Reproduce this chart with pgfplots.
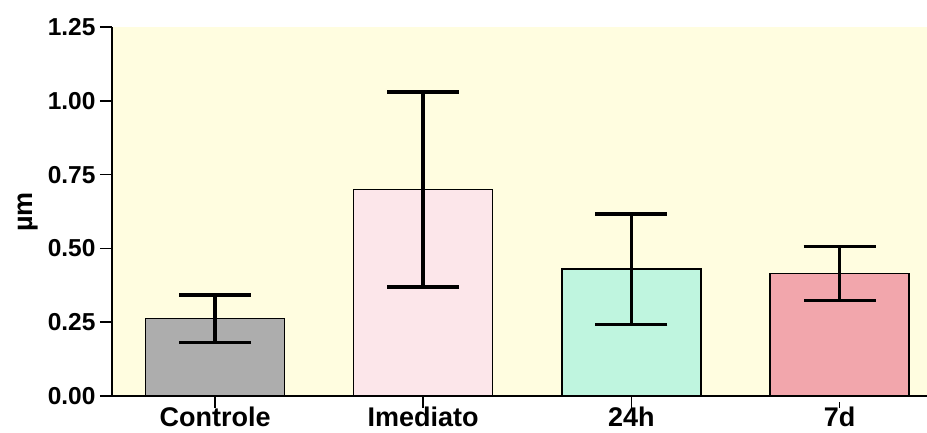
\documentclass[border=0pt]{standalone}
\usepackage{pgfplots}
\pgfplotsset{compat=1.18}
\usepackage{fontspec}
\setmainfont{Liberation Sans}
\definecolor{bgy}{HTML}{FFFDE0}
\definecolor{cctl}{HTML}{ADADAD}
\definecolor{cime}{HTML}{FCE6EA}
\definecolor{c24}{HTML}{BFF5DF}
\definecolor{c7d}{HTML}{F2A6AC}
\begin{document}
\begin{tikzpicture}
\path[use as bounding box] (-112bp,-37bp) rectangle (815bp,396bp);
\begin{axis}[
  at={(0,0)}, anchor=south west,
  scale only axis, width=815bp, height=369bp,
  xmin=-0.495, xmax=3.42, ymin=0, ymax=1.25,
  axis lines*=left,
  axis line style={line width=1.5bp, -},
  axis background/.style={fill=bgy},
  xtick={0,1,2,3},
  xticklabels={Controle,Imediato,24h,7d},
  ytick={0,0.25,0.5,0.75,1,1.25},
  /pgf/number format/assume math mode=true,
  yticklabel style={font=\bfseries\fontsize{24.5bp}{26bp}\selectfont, xshift=-1bp, /pgf/number format/.cd, fixed, fixed zerofill, precision=2},
  xticklabel style={font=\bfseries\fontsize{27bp}{29bp}\selectfont, yshift=3bp, text depth=0pt, inner ysep=2bp},
  tick align=outside,
  major tick length=12bp,
  tick style={line width=1.5bp, black},
  xtick style={shorten >=6bp},
  ylabel={\bfseries\fontsize{27bp}{29bp}\selectfont µm},
  every axis y label/.style={at={(-84bp,184bp)}, rotate=90, anchor=center},
  ybar, bar width=139bp, bar shift=0pt,
  error bars/y dir=both, error bars/y explicit,
  error bars/error bar style={line width=3.5bp, black},
  error bars/error mark options={rotate=90, line width=3.5bp, black, mark size=36bp},
  clip=false,
]
\addplot[draw=black, line width=1.4bp, fill=cctl] coordinates {(0,0.262) +- (0,0.08)};
\addplot[draw=black, line width=1.4bp, fill=cime] coordinates {(1,0.70) +- (0,0.33)};
\addplot[draw=black, line width=1.4bp, fill=c24] coordinates {(2,0.43) +- (0,0.187)};
\addplot[draw=black, line width=1.4bp, fill=c7d] coordinates {(3,0.415) +- (0,0.092)};
\end{axis}
\end{tikzpicture}
\end{document}
